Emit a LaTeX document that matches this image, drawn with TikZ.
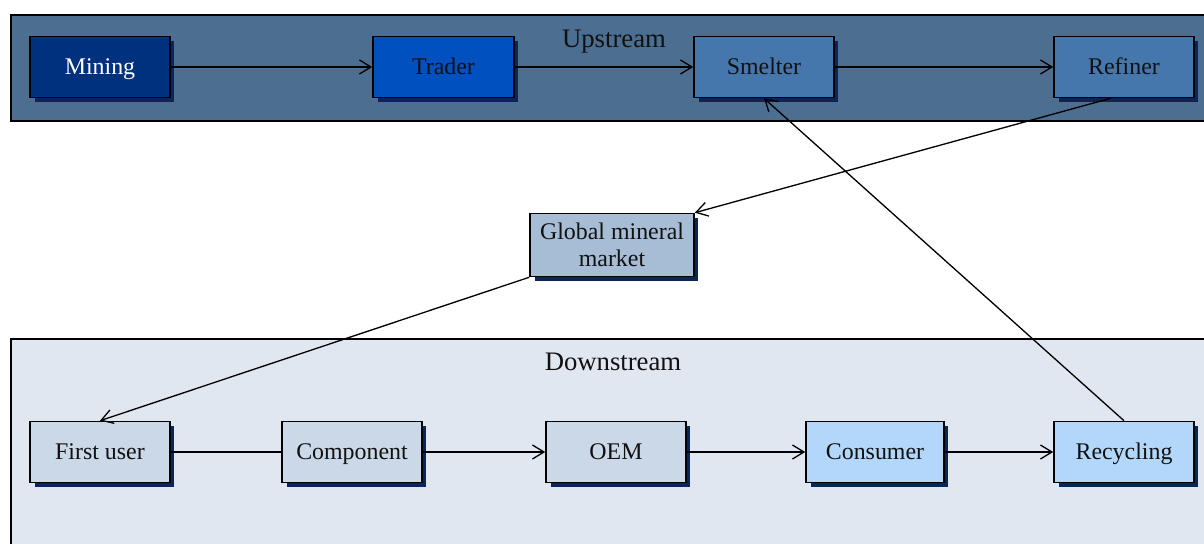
\documentclass[tikz,border=0pt]{standalone}
\usepackage{fontspec}
\setmainfont{Liberation Serif}
\usetikzlibrary{arrows.meta,shadows}

\definecolor{upframe}{HTML}{4B6E91}
\definecolor{downframe}{HTML}{E1E7F0}
\definecolor{miningc}{HTML}{00317F}
\definecolor{traderc}{HTML}{0050BF}
\definecolor{smeltc}{HTML}{4677AC}
\definecolor{marketc}{HTML}{A7BCD5}
\definecolor{userc}{HTML}{CBD8E8}
\definecolor{consc}{HTML}{B3D7FB}
\definecolor{shadowc}{HTML}{0B2556}
\definecolor{textc}{HTML}{111111}

\tikzset{
  stagebox/.style={draw=black, line width=0.9pt, minimum width=2.8cm,
    minimum height=1.22cm, align=center, text=textc,
    text height=11pt, text depth=2pt,
    font=\fontsize{13.6}{16}\selectfont,
    drop shadow={shadow xshift=0.09cm, shadow yshift=-0.09cm,
      fill=shadowc, opacity=1}},
  flow/.style={draw=black, line width=0.75pt,
    -{Straight Barb[length=2.3mm,width=2.8mm,line width=0.75pt]}},
  plainflow/.style={draw=black, line width=0.75pt},
  framebox/.style={draw=black, line width=0.8pt},
  framelabel/.style={text=textc, font=\fontsize{15.2}{18}\selectfont}
}

\begin{document}
\begin{tikzpicture}[x=0.02cm, y=-0.02cm]
  \useasboundingbox (0,0) rectangle (1204,544);
  \fill[white] (0,0) rectangle (1204,544);

  % stage frames
  \begin{scope}
    \clip (0,0) rectangle (1204,544);
    \draw[framebox, fill=upframe] (11,15) rectangle (1215,121);
    \draw[framebox, fill=downframe] (11,339) rectangle (1215,560);
  \end{scope}
  \node[framelabel] (uplabel) at (614,42) {Upstream};
  \node[framelabel] (downlabel) at (613,362) {Downstream};

  % upstream chain
  \node[stagebox, fill=miningc, text=white] (mining) at (100,67) {Mining};
  \node[stagebox, fill=traderc, minimum width=2.82cm] (trader) at (443.5,67) {Trader};
  \node[stagebox, fill=smeltc] (smelter) at (764,67) {Smelter};
  \node[stagebox, fill=smeltc] (refiner) at (1124,67) {Refiner};

  % market
  \node[stagebox, fill=marketc, minimum width=3.28cm, minimum height=1.26cm,
    text height=, text depth=]
    (market) at (612,245) {Global mineral\\[-1pt]market};

  % downstream chain
  \node[stagebox, fill=userc] (firstuser) at (100,452) {First user};
  \node[stagebox, fill=userc] (component) at (352,452) {Component};
  \node[stagebox, fill=userc] (oem) at (616,452) {OEM};
  \node[stagebox, fill=consc, minimum width=2.76cm] (consumer) at (875,452) {Consumer};
  \node[stagebox, fill=consc] (recycling) at (1124,452) {Recycling};

  % connectors
  \draw[flow] (mining) -- (trader);
  \draw[flow] (trader) -- (smelter);
  \draw[flow] (smelter) -- (refiner);
  \draw[flow] (refiner.-113) -- (market.north east);
  \draw[flow] (market.south west) -- (firstuser.north);
  \draw[plainflow] (firstuser) -- (component);
  \draw[flow] (component) -- (oem);
  \draw[flow] (oem) -- (consumer);
  \draw[flow] (consumer) -- (recycling);
  \draw[flow] (recycling.north) -- (smelter.south);
\end{tikzpicture}
\end{document}
